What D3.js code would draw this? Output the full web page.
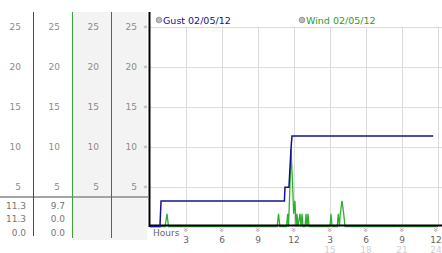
<!DOCTYPE html>
<html>
<head>
<meta charset="utf-8">
<script src="https://cdn.jsdelivr.net/npm/d3@7"></script>
<style>
  body { margin: 0; background: #fff; }
  svg { display: block; font-family: "DejaVu Sans", Verdana, sans-serif; }
</style>
</head>
<body>
<div id="chart"></div>
<script>
// values (hours, value)
var gustPoints = [[0, 0], [0.83, 0], [0.92, 3.2], [11.2, 3.2], [11.25, 4.9], [11.58, 4.9],
  [11.75, 9.7], [11.83, 11.3], [23.6, 11.3]];

var windPoints = [[0, 0], [1.25, 0], [1.42, 1.6], [1.54, 0],
  [10.6, 0], [10.71, 1.6], [10.82, 0],
  [11.38, 0], [11.47, 1.6], [11.54, 0], [11.62, 3.2], [11.75, 9.7], [11.89, 4.9],
  [11.97, 1.6], [12.08, 3.2], [12.17, 0], [12.25, 1.6], [12.33, 0], [12.5, 1.6],
  [12.58, 0], [12.67, 1.6], [12.75, 0], [12.92, 0], [13.0, 1.6], [13.08, 0],
  [13.17, 1.6], [13.25, 0],
  [15.0, 0], [15.08, 1.6], [15.17, 0], [15.6, 0], [15.69, 1.6], [15.78, 0],
  [15.86, 1.6], [16.0, 3.2], [16.14, 1.6], [16.25, 0], [24, 0]];

var yTicks = [5, 10, 15, 20, 25];
var xTicks = [3, 6, 9, 12, 15, 18, 21, 24];
var hourLabels = ["3", "6", "9", "12", "3", "6", "9", "12"];
var hour24Labels = ["", "", "", "", "15", "18", "21", "24"];
var legendNames = ["Gust 02/05/12", "Wind 02/05/12"];
var gustStats = ["11.3", "11.3", "0.0"];
var windStats = ["9.7", "0.0", "0.0"];

function init()
{
  var width = 442, height = 253;
  var colX = [33, 72, 111, 149];                                 // column divider lines
  var colColors = ["#2848b8", "#35a835", "#c03535", "#000"];

  var svg = d3.select("#chart").append("svg")
    .attr("width", width)
    .attr("height", height);

  var xScale = d3.scaleLinear().domain([0, 24]).range([150, 438]);
  var yScale = d3.scaleLinear().domain([0, 25]).range([226.5, 26.5]);

  // grey columns
  svg.append("rect").attr("x", colX[1] + 1).attr("y", 12)
    .attr("width", colX[3] - colX[1] - 3).attr("height", 228)
    .style("fill", "#f3f3f3");

  // gridlines
  svg.selectAll(".hgrid").data(yTicks).enter().append("line")
    .attr("x1", 150).attr("x2", width)
    .attr("y1", function(d) {return Math.round(yScale(d)) + 0.5;})
    .attr("y2", function(d) {return Math.round(yScale(d)) + 0.5;})
    .style("stroke", "#dcdcdc");

  svg.selectAll(".vgrid").data(xTicks).enter().append("line")
    .attr("x1", function(d) {return Math.round(xScale(d)) + 0.5;})
    .attr("x2", function(d) {return Math.round(xScale(d)) + 0.5;})
    .attr("y1", yScale(25)).attr("y2", yScale(0))
    .style("stroke", "#dcdcdc");

  // column labels
  colX.forEach(function(cx) {
    svg.selectAll(null).data(yTicks).enter().append("text")
      .attr("x", cx - 12)
      .attr("y", function(d) {return yScale(d) + 3.5;})
      .style("text-anchor", "end")
      .style("font-size", "9px")
      .style("fill", "#8c8c8c")
      .text(function(d) {return d;});
  });

  // separator
  svg.append("rect").attr("x", 0).attr("y", 196).attr("width", 148).attr("height", 2)
    .style("fill", "#a4a4a4");

  [gustStats, windStats].forEach(function(stats, i) {
    svg.selectAll(null).data(stats).enter().append("text")
      .attr("x", colX[i] - 7)
      .attr("y", function(d, j) {return 208.5 + j * 13.5;})
      .style("text-anchor", "end")
      .style("font-size", "9px")
      .style("fill", "#777")
      .text(function(d) {return d;});
  });

  // column lines
  colX.forEach(function(cx, i) {
    svg.append("line")
      .attr("x1", cx + 0.5).attr("x2", cx + 0.5)
      .attr("y1", 12).attr("y2", i == 3 ? 227 : (i == 0 ? 236 : 238))
      .style("stroke", colColors[i])
      .style("stroke-width", i == 3 ? 2 : 1);
  });

  // y tick marks
  svg.selectAll(".ymark").data(yTicks).enter().append("text")
    .attr("x", 145.5)
    .attr("y", function(d) {return yScale(d) + 2.5;})
    .style("text-anchor", "middle")
    .style("font-size", "7px")
    .style("fill", "#999")
    .text("»");

  // series
  var line = d3.line()
    .x(function(d) {return xScale(d[0]);})
    .y(function(d) {return yScale(d[1]);});

  svg.append("path")
    .datum(windPoints)
    .attr("d", line)
    .style("fill", "none")
    .style("stroke", "#2fae2f")
    .style("stroke-width", "1.3");

  svg.append("line")
    .attr("x1", 149).attr("x2", width)
    .attr("y1", 225.5).attr("y2", 225.5)
    .style("stroke", "#000")
    .style("stroke-width", "2");

  svg.append("path")
    .datum(gustPoints)
    .attr("d", line)
    .style("fill", "none")
    .style("stroke", "#14148c")
    .style("stroke-width", "1.5");

  // x axis labels
  svg.selectAll(".xmark").data(xTicks).enter().append("text")
    .attr("transform", function(d) {return "translate(" + (Math.min(xScale(d), 436) - 3) + ",230) rotate(90)";})
    .style("text-anchor", "middle")
    .style("font-size", "8px")
    .style("fill", "#888")
    .text("»");

  svg.selectAll(".xlab").data(xTicks).enter().append("text")
    .attr("x", function(d) {return Math.min(xScale(d), 436);})
    .attr("y", 242.5)
    .style("text-anchor", "middle")
    .style("font-size", "9px")
    .style("fill", "#666")
    .text(function(d, i) {return hourLabels[i];});

  svg.selectAll(".xlab2").data(xTicks).enter().append("text")
    .attr("x", function(d) {return Math.min(xScale(d), 436);})
    .attr("y", 252.5)
    .style("text-anchor", "middle")
    .style("font-size", "9px")
    .style("fill", "#cfcfcf")
    .text(function(d, i) {return hour24Labels[i];});

  svg.append("text")
    .attr("x", 153).attr("y", 236)
    .style("font-size", "9px")
    .style("fill", "#666")
    .text("Hours");

  // legend
  var legendX = [159, 302];
  var legendColors = ["#14148c", "#2a9a2a"];
  legendNames.forEach(function(name, i) {
    svg.append("circle")
      .attr("cx", legendX[i]).attr("cy", 20).attr("r", 2.8)
      .style("fill", "#bbb").style("stroke", "#999");
    svg.append("text")
      .attr("x", legendX[i] + 4).attr("y", 23.5)
      .style("font-size", "9.5px")
      .style("fill", legendColors[i])
      .text(name);
  });
}

window.onload = init;
</script>
</body>
</html>
